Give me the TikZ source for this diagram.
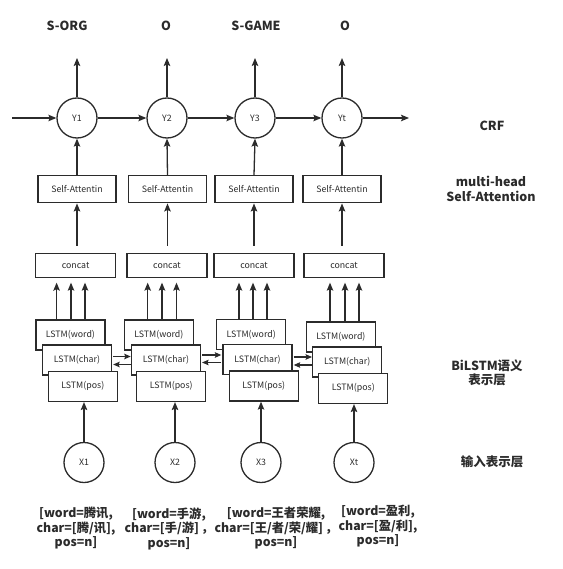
\documentclass[tikz,border=0pt]{standalone}
\usepackage{fontspec}
\setmainfont{Noto Sans CJK SC}
\newfontfamily\cjk{Noto Sans CJK SC}
\usetikzlibrary{arrows.meta,calc}
\definecolor{ink}{HTML}{2B2B2B}
\begin{document}
\begin{tikzpicture}[x=1pt,y=-1pt,
  every node/.style={text=ink},
  arr/.style={draw=ink,line width=1.3pt,-{Stealth[length=8pt,width=6.5pt,inset=1.5pt]}},
  sarr/.style={draw=ink,line width=1.2pt,-{Stealth[length=6.5pt,width=5.5pt,inset=1pt]}},
  inner/.style={font=\fontsize{8.8}{10}\selectfont},
  circ/.style={circle,draw=ink,line width=1.3pt,minimum size=40pt,inner sep=0pt,inner},
  sabox/.style={draw=ink,line width=1.3pt,fill=white,minimum width=78pt,minimum height=27pt,inner sep=0pt,inner},
  catbox/.style={draw=ink,line width=1.3pt,fill=white,minimum width=80pt,minimum height=24pt,inner sep=0pt,inner},
  lstm/.style={draw=ink,line width=1.3pt,fill=white,minimum width=69pt,minimum height=30pt,inner sep=0pt,inner},
  lab/.style={font=\fontsize{12.5}{14.5}\selectfont\bfseries,align=center},
  inp/.style={font=\fontsize{12.3}{14.5}\selectfont\bfseries,align=center}
]
\useasboundingbox (0,0) rectangle (562,569);

% top output labels
\node[lab] (l1) at (67,26) {S-ORG};
\node[lab] (l2) at (166,26) {O};
\node[lab] (l3) at (256,26) {S-GAME};
\node[lab] (l4) at (345,26) {O};

% CRF circles
\node[circ] (y1) at (77,118) {Y1};
\node[circ] (y2) at (167,118) {Y2};
\node[circ] (y3) at (255,118) {Y3};
\node[circ] (y4) at (342,118) {Yt};

\coordinate (o1) at (77,58);
\coordinate (o2) at (167,58);
\coordinate (o3) at (255,58);
\coordinate (o4) at (342,58);
\coordinate (hin) at (12,118);
\coordinate (hout) at (409,118);

\draw[arr] (y1) -- (o1);
\draw[arr] (y2) -- (o2);
\draw[arr] (y3) -- (o3);
\draw[arr] (y4) -- (o4);
\draw[arr] (hin) -- (y1);
\draw[arr] (y1) -- (y2);
\draw[arr] (y2) -- (y3);
\draw[arr] (y3) -- (y4);
\draw[arr] (y4) -- (hout);

% Self-Attention boxes
\node[sabox] (s1) at (77,189.3) {Self-Attentin};
\node[sabox] (s2) at (167.5,189.3) {Self-Attentin};
\node[sabox] (s3) at (254,189.3) {Self-Attentin};
\node[sabox] (s4) at (342,189.3) {Self-Attentin};

\draw[arr] (s1.north) -- (y1.south);
\draw[arr] (s2.north) -- (y2.south);
\draw[arr] (s3.north) -- (y3.south);
\draw[arr] (s4.north) -- (y4.south);

% concat boxes
\node[catbox] (c1) at (75.6,265.3) {concat};
\node[catbox] (c2) at (167,265.3) {concat};
\node[catbox] (c3) at (254,265.3) {concat};
\node[catbox] (c4) at (344,265.3) {concat};

\draw[arr,shorten <=6.7pt] (s1.south |- c1.north) -- (s1.south);
\draw[arr,shorten <=6.7pt] (s2.south |- c2.north) -- (s2.south);
\draw[arr,shorten <=6.7pt] (s3.south |- c3.north) -- (s3.south);
\draw[arr,shorten <=6.7pt] (s4.south |- c4.north) -- (s4.south);

% LSTM stacks
\node[lstm] (w1) at (70.4,335) {LSTM(word)};
\node[lstm] (h1) at (77,360) {LSTM(char)};
\node[lstm] (p1) at (82.8,386.4) {LSTM(pos)};
\node[lstm] (w2) at (158.8,335) {LSTM(word)};
\node[lstm] (h2) at (165.9,360) {LSTM(char)};
\node[lstm] (p2) at (171.2,386.4) {LSTM(pos)};
\node[lstm] (w3) at (251.2,334.5) {LSTM(word)};
\node[lstm] (h3) at (257.5,359.5) {LSTM(char)};
\node[lstm] (p3) at (263.7,386) {LSTM(pos)};
\node[lstm] (w4) at (340.9,337) {LSTM(word)};
\node[lstm] (h4) at (347.2,362) {LSTM(char)};
\node[lstm] (p4) at (353.3,388.4) {LSTM(pos)};

% three arrows into concat
\foreach \d in {-13.8,0.6,14.6} \draw[arr,shorten >=6pt] ([xshift=\d pt]w1.north) -- ++(0,-42.7);
\foreach \d in {-11.1,3.2,17.7} \draw[arr,shorten >=6pt] ([xshift=\d pt]w2.north) -- ++(0,-42.7);
\foreach \d in {-12.2,1.8,15.8} \draw[arr,shorten >=6pt] ([xshift=\d pt]w3.north) -- ++(0,-42.2);
\foreach \d in {-10.9,4.1,18.1} \draw[arr,shorten >=6pt] ([xshift=\d pt]w4.north) -- ++(0,-44.7);

% bidirectional arrows between char LSTMs
\draw[sarr] ($(h1.east)+(1,-3.5)$) -- ($(h2.west |- h1.east)+(0,-3.5)$);
\draw[sarr] ($(h2.west |- h1.east)+(0,4.5)$) -- ($(h1.east)+(1,4.5)$);
\draw[sarr] ($(h2.east)+(1,-5)$) -- ($(h3.west |- h2.east)+(-1,-5)$);
\draw[sarr] ($(h3.west |- h2.east)+(-1,2.5)$) -- ($(h2.east)+(1,2.5)$);
\draw[sarr] ($(h3.east)+(1,-2.5)$) -- ($(h4.west |- h3.east)+(0,-2.5)$);
\draw[sarr] ($(h4.west |- h3.east)+(0,5.5)$) -- ($(h3.east)+(1,5.5)$);

% input circles
\node[circ] (x1) at (84,462.5) {X1};
\node[circ] (x2) at (175,462.5) {X2};
\node[circ] (x3) at (261,462.5) {X3};
\node[circ] (x4) at (354,462.5) {Xt};

\draw[arr] (x1.north) -- (x1.north |- p1.south);
\draw[arr] (x2.north) -- (x2.north |- p2.south);
\draw[arr] (x3.north) -- (x3.north |- p3.south);
\draw[arr] (x4.north) -- (x4.north |- p4.south);

% input text
\node[inp] (t1) at (76,528.5) {[word=腾讯,\\char=[腾/讯],\\pos=n]};
\node[inp] (t2) at (169,528.5) {[word=手游,\\char=[手/游]\,，\\pos=n]};
\node[inp] (t3) at (276,528.5) {[word=王者荣耀,\\char=[王/者/荣/耀]\,，\\pos=n]};
\node[inp] (t4) at (378,526.5) {[word=盈利,\\char=[盈/利],\\pos=n]};

% right-side layer labels
\node[lab] (r1) at (492,126) {CRF};
\node[lab] (r2) at (491,189) {multi-head\\Self-Attention};
\node[lab] (r3) at (487,373) {BiLSTM语义\\表示层};
\node[lab] (r4) at (492,462) {输入表示层};
\end{tikzpicture}
\end{document}
